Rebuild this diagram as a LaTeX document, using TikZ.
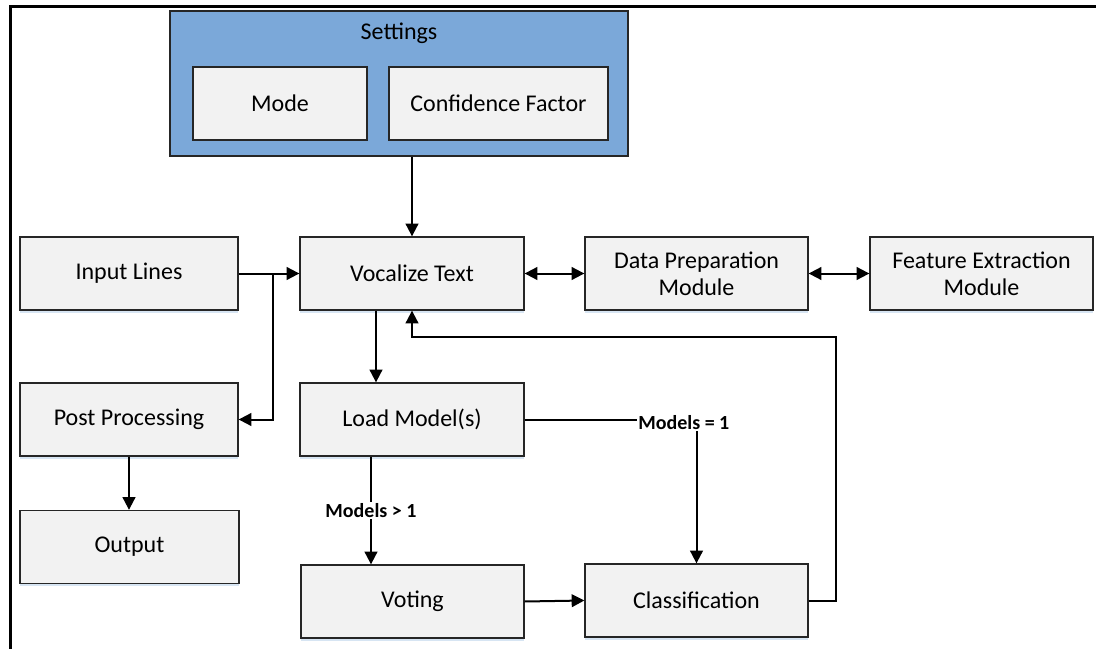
\documentclass[tikz,border=0pt]{standalone}
\usepackage{fontspec}
\setmainfont{Carlito}
\usetikzlibrary{arrows.meta,shadows}
\definecolor{boxfill}{RGB}{242,242,242}
\definecolor{setfill}{RGB}{123,168,217}
\definecolor{shade}{RGB}{205,222,240}
\begin{document}
\begin{tikzpicture}[x=0.75pt,y=-0.75pt,
  box/.style={draw=black!85,line width=1pt,fill=boxfill,minimum width=#1*0.75pt,
    minimum height=54.75pt,inner sep=0pt,align=center,font=\fontsize{18}{20}\selectfont,
    drop shadow={shadow xshift=0pt,shadow yshift=-2pt,fill=shade,opacity=0.8}},
  inbox/.style={draw=black!85,line width=1pt,fill=boxfill,minimum width=#1*0.75pt,
    minimum height=54.75pt,inner sep=0pt,font=\fontsize{18}{20}\selectfont},
  arr/.style={line width=1.5pt,-{Triangle[length=9.5pt,width=9.5pt]}},
  darr/.style={line width=1.5pt,{Triangle[length=9.5pt,width=9.5pt]}-{Triangle[length=9.5pt,width=9.5pt]}},
  line/.style={line width=1.5pt},
  lbl/.style={fill=white,inner sep=1pt,font=\bfseries\fontsize{15}{17}\selectfont}]
\useasboundingbox (0,0) rectangle (1096,649);

% frame lines along the top and left edges
\draw[line width=2.25pt] (10.5,649) -- (10.5,6.5) -- (1096,6.5);

% settings panel
\node[draw=black!85,line width=1pt,fill=setfill,minimum width=458*0.75pt,
  minimum height=145*0.75pt,inner sep=0pt] (settings) at (399,83.5) {};
\node[font=\fontsize{18}{20}\selectfont] (settitle) at (399,33) {Settings};
\node[inbox=174] (mode) at (280,103.5) {Mode};
\node[inbox=219] (conf) at (498.5,103.5) {Confidence Factor};

% process boxes
\node[box=218] (input) at (129,273.5) {Input Lines};
\node[box=224] (vocal) at (412,273.5) {Vocalize Text};
\node[box=223] (prep) at (696.5,273.5) {Data Preparation\\Module};
\node[box=223] (feat) at (981.5,273.5) {Feature Extraction\\Module};
\node[box=218] (post) at (129,419.5) {Post Processing};
\node[box=224] (load) at (412,419.5) {Load Model(s)};
\node[box=219] (output) at (129.5,547) {Output};
\node[box=223] (voting) at (412.5,601.5) {Voting};
\node[box=223] (class) at (696.5,600.5) {Classification};

% connectors
\draw[arr] (vocal.north |- settings.south) -- (vocal.north);
\draw[arr] (input.east) -- (vocal.west);
\coordinate (split) at (273,273.5);
\draw[arr] (split) |- (post.east);
\draw[darr] (vocal.east) -- (prep.west);
\draw[darr] (prep.east) -- (feat.west);
\draw[arr] ([xshift=-27pt]vocal.south) -- ([xshift=-27pt]load.north);
\draw[arr] ([xshift=-30.75pt]load.south) -- ([xshift=-30.75pt]load.south |- voting.north)
  node[lbl,pos=0.5] {Models > 1};
\draw[arr] (load.east) -| (class.north)
  node[lbl,pos=0.5,xshift=-9.5pt,yshift=-2pt] {Models = 1};
\draw[arr] (voting.east) -- (class.west);
\coordinate (back) at (836,337);
\draw[arr] (class.east) -| (back) -| (vocal.south);
\draw[arr] (post.south) -- (post.south |- output.north);
\end{tikzpicture}
\end{document}
